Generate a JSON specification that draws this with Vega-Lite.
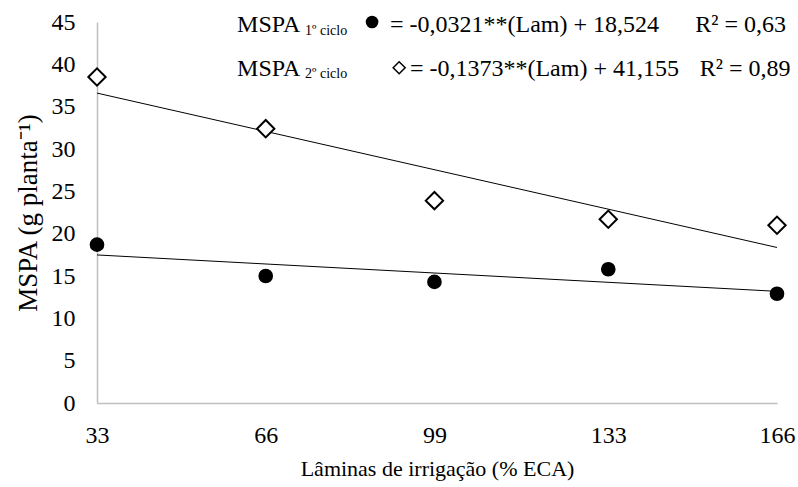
{
  "$schema": "https://vega.github.io/schema/vega-lite/v6.json",
  "autosize": {"type": "none"},
  "width": 680,
  "height": 381,
  "padding": {"left": 97, "top": 22, "right": 21, "bottom": 84},
  "background": "white",
  "config": {
    "font": "'Liberation Serif', 'Times New Roman', serif",
    "view": {"stroke": null},
    "text": {"font": "'Liberation Serif', 'Times New Roman', serif"},
    "axis": {
      "domainColor": "#bfbfbf",
      "domainWidth": 1.5,
      "ticks": false,
      "grid": false,
      "labelFont": "'Liberation Serif', 'Times New Roman', serif",
      "labelFontSize": 24,
      "labelColor": "black",
      "titleFont": "'Liberation Serif', 'Times New Roman', serif",
      "titleFontWeight": "normal",
      "titleColor": "black",
      "labelFlush": false,
      "labelOverlap": false
    }
  },
  "data": {
    "values": [
      {"serie": "1º ciclo", "Lam": 33, "MSPA": 18.7},
      {"serie": "1º ciclo", "Lam": 66, "MSPA": 15.0},
      {"serie": "1º ciclo", "Lam": 99, "MSPA": 14.3},
      {"serie": "1º ciclo", "Lam": 133, "MSPA": 15.8},
      {"serie": "1º ciclo", "Lam": 166, "MSPA": 12.9},
      {"serie": "2º ciclo", "Lam": 33, "MSPA": 38.5},
      {"serie": "2º ciclo", "Lam": 66, "MSPA": 32.4},
      {"serie": "2º ciclo", "Lam": 99, "MSPA": 23.9},
      {"serie": "2º ciclo", "Lam": 133, "MSPA": 21.7},
      {"serie": "2º ciclo", "Lam": 166, "MSPA": 21.0}
    ]
  },
  "layer": [
    {
      "transform": [{"regression": "MSPA", "on": "Lam", "groupby": ["serie"]}],
      "mark": {"type": "line", "color": "black", "strokeWidth": 1},
      "encoding": {
        "x": {"field": "Lam", "type": "quantitative",
              "scale": {"domain": [33, 166], "nice": false, "zero": false},
              "axis": {"values": [33, 66, 99, 133, 166], "labelPadding": 20, "titlePadding": 11, "titleFontSize": 22},
              "title": "Lâminas de irrigação (% ECA)"},
        "y": {"field": "MSPA", "type": "quantitative",
              "scale": {"domain": [0, 45], "nice": false},
              "axis": {"values": [0, 5, 10, 15, 20, 25, 30, 35, 40, 45], "labelPadding": 22, "titlePadding": 9, "titleFontSize": 27},
              "title": "MSPA (g planta⁻¹)"},
        "detail": {"field": "serie"}
      }
    },
    {
      "mark": {"type": "point", "opacity": 1, "stroke": "black", "strokeWidth": 2},
      "encoding": {
        "x": {"field": "Lam", "type": "quantitative"},
        "y": {"field": "MSPA", "type": "quantitative"},
        "shape": {"field": "serie", "type": "nominal", "scale": {"domain": ["1º ciclo", "2º ciclo"], "range": ["circle", "diamond"]}, "legend": null},
        "fill": {"field": "serie", "type": "nominal", "scale": {"domain": ["1º ciclo", "2º ciclo"], "range": ["black", "white"]}, "legend": null},
        "size": {"field": "serie", "type": "nominal", "scale": {"domain": ["1º ciclo", "2º ciclo"], "range": [160, 300]}, "legend": null}
      }
    },
    {
      "data": {"values": [{}]},
      "mark": {"type": "text", "align": "left", "baseline": "middle", "fontSize": 24},
      "encoding": {"x": {"datum": 60.4, "type": "quantitative"}, "y": {"datum": 44.6, "type": "quantitative"}, "text": {"value": "MSPA"}}
    },
    {
      "data": {"values": [{}]},
      "mark": {"type": "text", "align": "left", "baseline": "middle", "fontSize": 14},
      "encoding": {"x": {"datum": 73.7, "type": "quantitative"}, "y": {"datum": 43.9, "type": "quantitative"}, "text": {"value": "1º ciclo"}}
    },
    {
      "data": {"values": [{}]},
      "mark": {"type": "point", "shape": "circle", "filled": true, "color": "black", "size": 160, "opacity": 1},
      "encoding": {"x": {"datum": 86.8, "type": "quantitative"}, "y": {"datum": 45.0, "type": "quantitative"}}
    },
    {
      "data": {"values": [{}]},
      "mark": {"type": "text", "align": "left", "baseline": "middle", "fontSize": 24},
      "encoding": {"x": {"datum": 90.3, "type": "quantitative"}, "y": {"datum": 44.6, "type": "quantitative"}, "text": {"value": "= -0,0321**(Lam) + 18,524"}}
    },
    {
      "data": {"values": [{}]},
      "mark": {"type": "text", "align": "left", "baseline": "middle", "fontSize": 24},
      "encoding": {"x": {"datum": 150.0, "type": "quantitative"}, "y": {"datum": 44.6, "type": "quantitative"}, "text": {"value": "R² = 0,63"}}
    },
    {
      "data": {"values": [{}]},
      "mark": {"type": "text", "align": "left", "baseline": "middle", "fontSize": 24},
      "encoding": {"x": {"datum": 60.4, "type": "quantitative"}, "y": {"datum": 39.5, "type": "quantitative"}, "text": {"value": "MSPA"}}
    },
    {
      "data": {"values": [{}]},
      "mark": {"type": "text", "align": "left", "baseline": "middle", "fontSize": 14},
      "encoding": {"x": {"datum": 73.7, "type": "quantitative"}, "y": {"datum": 38.8, "type": "quantitative"}, "text": {"value": "2º ciclo"}}
    },
    {
      "data": {"values": [{}]},
      "mark": {"type": "point", "shape": "diamond", "filled": false, "color": "black", "strokeWidth": 1.5, "size": 144, "opacity": 1},
      "encoding": {"x": {"datum": 92.1, "type": "quantitative"}, "y": {"datum": 39.6, "type": "quantitative"}}
    },
    {
      "data": {"values": [{}]},
      "mark": {"type": "text", "align": "left", "baseline": "middle", "fontSize": 24},
      "encoding": {"x": {"datum": 94.2, "type": "quantitative"}, "y": {"datum": 39.5, "type": "quantitative"}, "text": {"value": "= -0,1373**(Lam) + 41,155"}}
    },
    {
      "data": {"values": [{}]},
      "mark": {"type": "text", "align": "left", "baseline": "middle", "fontSize": 24},
      "encoding": {"x": {"datum": 150.9, "type": "quantitative"}, "y": {"datum": 39.5, "type": "quantitative"}, "text": {"value": "R² = 0,89"}}
    }
  ]
}
